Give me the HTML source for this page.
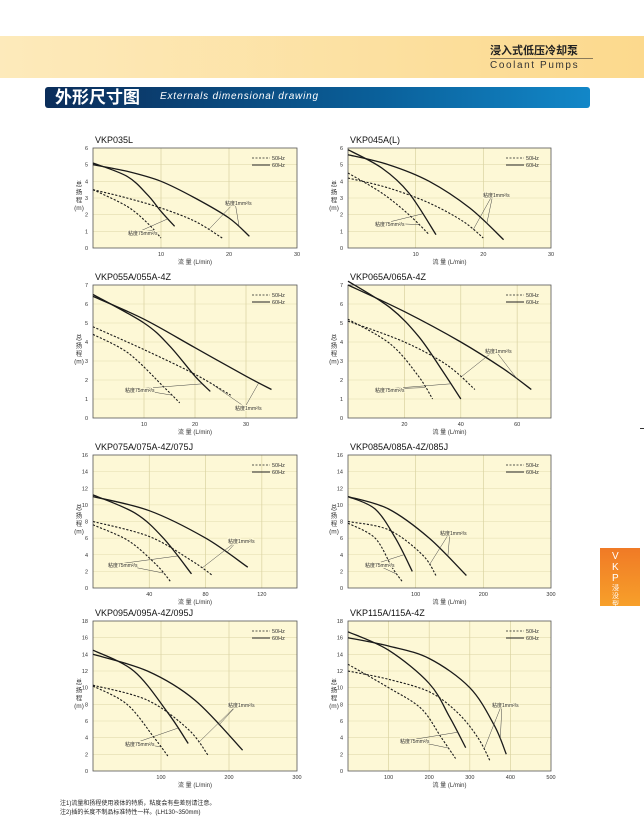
<!DOCTYPE html>
<html><head><meta charset="utf-8">
<style>
body{margin:0;width:644px;height:832px;background:#fff;position:relative;overflow:hidden;font-family:"Liberation Sans","Noto Sans CJK SC",sans-serif}
#hdr{position:absolute;left:0;top:36px;width:644px;height:42px;background:linear-gradient(90deg,#fdeabb,#fcd98d)}
#bar{position:absolute;left:45px;top:87px;width:545px;height:21px;background:linear-gradient(90deg,#0b2d5a,#0a5f99 60%,#1287c8);border-radius:3px}
#tab{position:absolute;left:600px;top:548px;width:40px;height:58px;background:linear-gradient(#f07a26,#f7a02a)}
svg{position:absolute;left:0;top:0}
</style></head><body>
<div id="hdr"></div>
<div style="position:absolute;left:490px;top:42px;font-size:11px;font-weight:bold;color:#222">浸入式低压冷却泵</div>
<div style="position:absolute;left:490px;top:58px;width:103px;height:1px;background:#8a7a5a"></div>
<div style="position:absolute;left:490px;top:60px;font-size:10px;letter-spacing:1.6px;color:#333">Coolant Pumps</div>
<div id="bar"></div>
<div style="position:absolute;left:55px;top:87px;font-size:17px;font-weight:bold;color:#fff;line-height:21px">外形尺寸图</div>
<div style="position:absolute;left:160px;top:91px;font-size:10px;font-style:italic;color:#fff;letter-spacing:0.8px">Externals dimensional drawing</div>
<div id="tab"></div>
<div style="position:absolute;left:612px;top:551px;font-size:10px;color:#fff;width:12px;line-height:11px">V<br>K<br>P</div>
<div style="position:absolute;left:612px;top:585px;font-size:7px;color:#fff;width:9px;line-height:8px">浸没型</div>
<div style="position:absolute;left:640px;top:428px;width:4px;height:1px;background:#333"></div>
<div style="position:absolute;left:60px;top:800px;font-size:6px;color:#222;line-height:9px">注1)流量和扬程使用液体的特质，粘度会有些差别请注意。<br>注2)插的长度不制品标准特性一样。(LH130~350mm)</div>
<svg id="s" width="644" height="832" xmlns="http://www.w3.org/2000/svg"></svg>
<script>
var C=[
{t:"VKP035L",x0:93,x1:297,y0:148,y1:248,xm:30,ym:6,xt:[10,20,30],yt:[0,1,2,3,4,5,6],
c:[[[0,5],[5,4.6],[10,4],[15,3],[20,1.8],[23,0.7]],[[0,5.1],[5,4.3],[8,3.2],[10,2.2],[12,1.3]],[[0,3.5],[5,3],[10,2.4],[15,1.6],[19,0.6]],[[0,3.5],[5,2.5],[8,1.5],[10,0.6]]],l1:[225,205],l2:[128,235]},
{t:"VKP045A(L)",x0:348,x1:551,y0:148,y1:248,xm:30,ym:6,xt:[10,20,30],yt:[0,1,2,3,4,5,6],
c:[[[0,5.6],[6,5],[12,4],[18,2.4],[23,0.5]],[[0,5.9],[5,4.8],[9,3.3],[13,0.8]],[[0,4.2],[6,3.6],[12,2.7],[17,1.6],[20,0.6]],[[0,4.5],[5,3.3],[9,2],[12,0.8]]],l1:[483,197],l2:[375,226]},
{t:"VKP055A/055A-4Z",x0:93,x1:297,y0:285,y1:418,xm:40,ym:7,xt:[10,20,30],yt:[0,1,2,3,4,5,6,7],
c:[[[0,6.4],[10,5.2],[20,3.7],[30,2.2],[35,1.5]],[[0,6.5],[10,5],[15,3.8],[20,2.2],[23,1.4]],[[0,4.8],[10,3.6],[20,2.3],[27,1.2]],[[0,4.4],[7,3.4],[14,1.6],[17,0.8]]],l1:[235,410],l2:[125,392]},
{t:"VKP065A/065A-4Z",x0:348,x1:551,y0:285,y1:418,xm:72,ym:7,xt:[20,40,60],yt:[0,1,2,3,4,5,6,7],
c:[[[0,7],[20,5.6],[40,4],[55,2.6],[65,1.5]],[[0,7.2],[15,5.8],[25,4.3],[33,2.6],[40,1]],[[0,5.1],[20,4],[35,2.8],[45,1.5]],[[0,5.2],[15,3.9],[25,2.2],[30,1]]],l1:[485,353],l2:[375,392]},
{t:"VKP075A/075A-4Z/075J",x0:93,x1:297,y0:455,y1:588,xm:145,ym:16,xt:[40,80,120],yt:[0,2,4,6,8,10,12,14,16],
c:[[[0,11],[40,9.3],[80,6],[110,2.5]],[[0,11.2],[30,9],[50,6],[70,1.7]],[[0,8],[40,6.2],[70,3.3],[85,1.5]],[[0,7.6],[25,5.7],[45,2.8],[55,0.8]]],l1:[228,543],l2:[108,567]},
{t:"VKP085A/085A-4Z/085J",x0:348,x1:551,y0:455,y1:588,xm:300,ym:16,xt:[100,200,300],yt:[0,2,4,6,8,10,12,14,16],
c:[[[0,11],[60,9.5],[120,6],[175,1.5]],[[0,11],[40,9.5],[70,6],[95,2]],[[0,8],[60,7],[110,4],[130,1.5]],[[0,7.8],[40,6],[65,2.5],[80,0.8]]],l1:[440,535],l2:[365,567]},
{t:"VKP095A/095A-4Z/095J",x0:93,x1:297,y0:621,y1:771,xm:300,ym:18,xt:[100,200,300],yt:[0,2,4,6,8,10,12,14,16,18],
c:[[[0,14],[80,12],[150,8.5],[220,2.5]],[[0,14.5],[60,12],[110,7],[140,3.3]],[[0,10.3],[80,8.5],[140,5],[170,1.8]],[[0,10.2],[50,8],[90,4],[110,1.8]]],l1:[228,707],l2:[125,746]},
{t:"VKP115A/115A-4Z",x0:348,x1:551,y0:621,y1:771,xm:500,ym:18,xt:[100,200,300,400,500],yt:[0,2,4,6,8,10,12,14,16,18],
c:[[[0,16],[100,15],[200,13.5],[300,10],[360,5.5],[390,2]],[[0,16.7],[100,14.5],[200,10.5],[250,6.5],[290,2.8]],[[0,12],[100,11],[200,9.5],[270,7],[320,4],[350,1.2]],[[0,12.8],[100,10],[180,7.5],[230,4],[265,1.5]]],l1:[492,707],l2:[400,743]}
];
var h='';
function sm(p){var d='M'+p[0][0].toFixed(1)+' '+p[0][1].toFixed(1);for(var i=0;i<p.length-1;i++){var a=p[i-1]||p[i],b=p[i],c=p[i+1],e=p[i+2]||c;
d+=' C'+(b[0]+(c[0]-a[0])/6).toFixed(1)+' '+(b[1]+(c[1]-a[1])/6).toFixed(1)+' '+(c[0]-(e[0]-b[0])/6).toFixed(1)+' '+(c[1]-(e[1]-b[1])/6).toFixed(1)+' '+c[0].toFixed(1)+' '+c[1].toFixed(1);}return d;}
C.forEach(function(g){
var X=function(v){return g.x0+v/g.xm*(g.x1-g.x0)},Y=function(v){return g.y1-v/g.ym*(g.y1-g.y0)};
h+='<text x="'+(g.x0+2)+'" y="'+(g.y0-5)+'" font-size="9" fill="#111">'+g.t+'</text>';
h+='<rect x="'+g.x0+'" y="'+g.y0+'" width="'+(g.x1-g.x0)+'" height="'+(g.y1-g.y0)+'" fill="#fdf8d6"/>';
g.yt.forEach(function(v){if(v>0&&v<g.ym)h+='<line x1="'+g.x0+'" x2="'+g.x1+'" y1="'+Y(v)+'" y2="'+Y(v)+'" stroke="#e2dcae" stroke-width="0.6"/>';
h+='<text x="'+(g.x0-5)+'" y="'+(Y(v)+2)+'" font-size="5.5" fill="#333" text-anchor="end">'+v+'</text>';});
g.xt.forEach(function(v){if(X(v)<g.x1-1)h+='<line x1="'+X(v)+'" x2="'+X(v)+'" y1="'+g.y0+'" y2="'+g.y1+'" stroke="#d9d2a0" stroke-width="0.7"/>';
h+='<text x="'+X(v)+'" y="'+(g.y1+8)+'" font-size="5.5" fill="#333" text-anchor="middle">'+v+'</text>';});
h+='<rect x="'+g.x0+'" y="'+g.y0+'" width="'+(g.x1-g.x0)+'" height="'+(g.y1-g.y0)+'" fill="none" stroke="#555" stroke-width="0.8"/>';
var mx=(g.x0+g.x1)/2;
h+='<text x="'+mx+'" y="'+(g.y1+16)+'" font-size="6" fill="#333" text-anchor="middle">流 量 (L/min)</text>';
var my=(g.y0+g.y1)/2, lx0=g.x0-14;
['总','扬','程','(m)'].forEach(function(s,k){h+='<text x="'+lx0+'" y="'+(my-12+k*8)+'" font-size="6.5" fill="#333" text-anchor="middle">'+s+'</text>';});
var lx=g.x1-45,ly=g.y0+10;
h+='<line x1="'+lx+'" x2="'+(lx+18)+'" y1="'+ly+'" y2="'+ly+'" stroke="#222" stroke-dasharray="2,1.5" stroke-width="0.8"/><text x="'+(lx+20)+'" y="'+(ly+2)+'" font-size="5.5" fill="#333">50Hz</text>';
h+='<line x1="'+lx+'" x2="'+(lx+18)+'" y1="'+(ly+7)+'" y2="'+(ly+7)+'" stroke="#222" stroke-width="0.9"/><text x="'+(lx+20)+'" y="'+(ly+9)+'" font-size="5.5" fill="#333">60Hz</text>';
var P=[];
g.c.forEach(function(c,i){var p=c.map(function(q){return[X(q[0]),Y(q[1])]});P.push(p);
h+='<path d="'+sm(p)+'" fill="none" stroke="#1a1a1a" stroke-width="'+(i<2?1.3:1.1)+'"'+(i<2?'':' stroke-dasharray="2.2,1.6"')+'/>';});
function mid(p){var k=p.length-2;return[(p[k][0]+p[k+1][0])/2,(p[k][1]+p[k+1][1])/2];}
[[0,2,g.l1],[1,3,g.l2]].forEach(function(r){var a=mid(P[r[0]]),b=mid(P[r[1]]),o=[r[2][0]+10,r[2][1]-3];
h+='<path d="M'+o[0]+' '+o[1]+' L'+a[0]+' '+a[1]+' M'+o[0]+' '+o[1]+' L'+b[0]+' '+b[1]+'" stroke="#444" stroke-width="0.5" fill="none"/>';});
h+='<text x="'+g.l1[0]+'" y="'+g.l1[1]+'" font-size="5" fill="#333" stroke="#fdf8d6" stroke-width="2" paint-order="stroke">粘度1mm²/s</text>';
h+='<text x="'+g.l2[0]+'" y="'+g.l2[1]+'" font-size="5" fill="#333" stroke="#fdf8d6" stroke-width="2" paint-order="stroke">粘度75mm²/s</text>';
});
document.getElementById('s').innerHTML=h;
</script>
</body></html>
